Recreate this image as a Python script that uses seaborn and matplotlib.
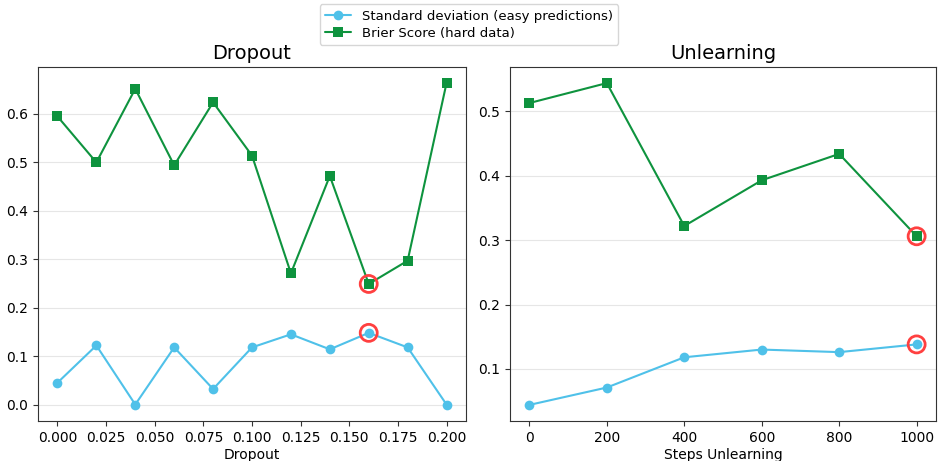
import matplotlib
matplotlib.use("Agg")
import matplotlib.pyplot as plt
import seaborn as sns
import pandas as pd
from matplotlib.lines import Line2D

sns.set_style("white")
plt.rcParams['font.family'] = ['DejaVu Sans']
plt.rcParams['text.color'] = 'black'
plt.rcParams['xtick.color'] = 'black'
plt.rcParams['ytick.color'] = 'black'
plt.rcParams['axes.labelcolor'] = 'black'

dropout_x = [0.0, 0.02, 0.04, 0.06, 0.08, 0.10, 0.12, 0.14, 0.16, 0.18, 0.20]
dropout_std = [0.045, 0.122, 0.0, 0.118, 0.032, 0.118, 0.145, 0.114, 0.148, 0.118, 0.0]
dropout_brier = [0.595, 0.500, 0.652, 0.494, 0.624, 0.514, 0.271, 0.472, 0.249, 0.297, 0.664]

steps_x = [0, 200, 400, 600, 800, 1000]
steps_std = [0.044, 0.071, 0.118, 0.130, 0.126, 0.138]
steps_brier = [0.513, 0.544, 0.322, 0.393, 0.434, 0.306]

best_dropout_idx = 8
best_steps_idx = 5

label_std = "Standard deviation (easy predictions)"
label_brier = "Brier Score (hard data)"
c_std = "#4FC1E9"
c_brier = "#0E933E"
c_red = "#FF4040"

fig = plt.figure(figsize=(9.38, 4.61), dpi=100)
ax1 = fig.add_axes([38/938, 40/461, 428/938, 354/461])
ax2 = fig.add_axes([510/938, 40/461, 426/938, 354/461])

def draw(ax, x, std, brier, best, title, xlabel):
    df = pd.DataFrame({"x": x, "std": std, "brier": brier})
    sns.lineplot(data=df, x="x", y="std", ax=ax, color=c_std, marker="o",
                 markersize=7, markeredgewidth=0, linewidth=1.5, label=label_std)
    sns.lineplot(data=df, x="x", y="brier", ax=ax, color=c_brier, marker="s",
                 markersize=7, markeredgewidth=0, linewidth=1.5, label=label_brier)
    ax.scatter([x[best], x[best]], [std[best], brier[best]], s=150,
               facecolors="none", edgecolors=c_red, linewidths=2, zorder=5)
    ax.set_title(title, fontsize=14)
    ax.set_xlabel(xlabel, fontsize=10, labelpad=2)
    ax.set_ylabel("")
    ax.grid(axis="y", color="#e6e6e6", linewidth=0.8)
    ax.set_axisbelow(True)
    ax.tick_params(axis="both", labelsize=10, length=3.5, width=0.8,
                   bottom=True, left=True, color="#333333")
    for s in ax.spines.values():
        s.set_color("#333333")
        s.set_linewidth(0.8)
    ax.get_legend().remove()

draw(ax1, dropout_x, dropout_std, dropout_brier, best_dropout_idx, "Dropout", "Dropout")
draw(ax2, steps_x, steps_std, steps_brier, best_steps_idx, "Unlearning", "Steps Unlearning")

ax1.set_yticks([0.0, 0.1, 0.2, 0.3, 0.4, 0.5, 0.6])
ax1.set_ylim(-0.034, 0.697)
ax1.set_xlim(-0.01, 0.21)
ax2.set_yticks([0.1, 0.2, 0.3, 0.4, 0.5])
ax2.set_ylim(0.019, 0.569)
ax2.set_xlim(-50, 1050)

handles = [Line2D([], [], color=c_std, marker="o", markersize=7, markeredgewidth=0, linewidth=1.5),
           Line2D([], [], color=c_brier, marker="s", markersize=7, markeredgewidth=0, linewidth=1.5)]
fig.legend(handles, [label_std, label_brier], loc="upper center",
           bbox_to_anchor=(0.5, 1.005), fontsize=9.5, frameon=True,
           borderpad=0.4, handlelength=2, labelspacing=0.3)

fig.savefig("out.png", dpi=100)
